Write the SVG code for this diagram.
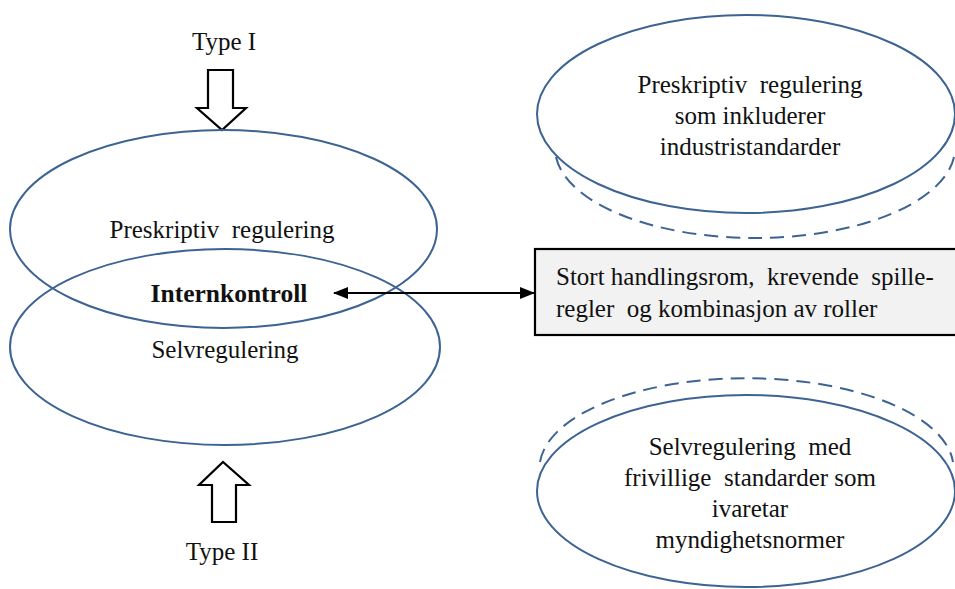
<svg xmlns="http://www.w3.org/2000/svg" width="955" height="589" viewBox="0 0 955 589">
<defs>
<marker id="ah" viewBox="0 0 15 12" refX="14" refY="6" markerWidth="15" markerHeight="12" markerUnits="userSpaceOnUse" orient="auto-start-reverse">
<path d="M0,0 L15,6 L0,12 Z" fill="#000"/>
</marker>
</defs>
<style>
.ell{fill:none;stroke:#3d6393;stroke-width:2}
.dash{fill:none;stroke:#3d6393;stroke-width:2;stroke-dasharray:14 8}
.blk{fill:#fff;stroke:#000;stroke-width:2.2;stroke-linejoin:miter}
.t{font-family:"Liberation Serif","Times New Roman",serif;font-size:25px;fill:#111;white-space:pre}
.c{text-anchor:middle}
.b{font-weight:bold;font-size:25.5px}
.box{fill:#f2f2f2;stroke:#000;stroke-width:2.2}
</style>
<rect width="955" height="589" fill="#fff"/>
<g id="type1">
<text class="t c" x="224" y="50">Type I</text>
<path class="blk" d="M208,70 L233,70 L233,108 L246,108 L222,130 L197,108 L208,108 Z"/>
</g>
<g id="preskriptiv">
<ellipse class="ell" cx="223.5" cy="229" rx="213.5" ry="99"/>
<text class="t c" x="222" y="238" xml:space="preserve">Preskriptiv  regulering</text>
</g>
<g id="selvregulering">
<ellipse class="ell" cx="225" cy="347" rx="215" ry="98"/>
<text class="t c" x="225" y="358">Selvregulering</text>
</g>
<g id="internkontroll">
<text class="t c b" x="229" y="302">Internkontroll</text>
</g>
<g id="type2">
<path class="blk" d="M212,522 L236,522 L236,485 L249,485 L223,462 L199,485 L212,485 Z"/>
<text class="t c" x="222" y="560">Type II</text>
</g>
<g id="box">
<rect class="box" x="535" y="249" width="425" height="86"/>
<text class="t" x="556" y="285" xml:space="preserve">Stort handlingsrom,  krevende  spille-</text>
<text class="t" x="556" y="317" xml:space="preserve">regler  og kombinasjon av roller</text>
</g>
<g id="preskriptiv-industri">
<path class="dash" d="M556,157 A200,90 0 0 0 954,157"/>
<ellipse class="ell" cx="746" cy="114" rx="209" ry="99" fill="#fff"/>
<text class="t c" x="750" y="93" xml:space="preserve">Preskriptiv  regulering</text>
<text class="t c" x="750" y="124">som inkluderer</text>
<text class="t c" x="750" y="155">industristandarder</text>
</g>
<g id="selv-frivillig">
<path class="dash" d="M540,462 A207,90 0 0 1 953,462"/>
<ellipse class="ell" cx="746" cy="491" rx="209" ry="96"/>
<text class="t c" x="750" y="455" xml:space="preserve">Selvregulering  med</text>
<text class="t c" x="750" y="486" xml:space="preserve">frivillige  standarder som</text>
<text class="t c" x="750" y="517">ivaretar</text>
<text class="t c" x="750" y="548">myndighetsnormer</text>
</g>
<g id="connectors">
<line x1="334" y1="293" x2="534" y2="293" stroke="#000" stroke-width="2.2" marker-start="url(#ah)" marker-end="url(#ah)"/>
</g>
</svg>
